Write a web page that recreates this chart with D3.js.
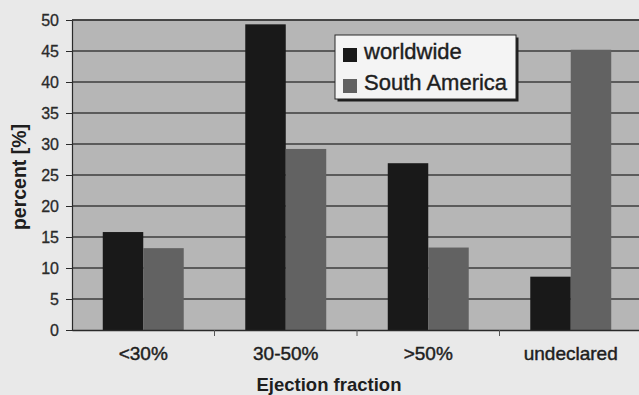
<!DOCTYPE html>
<html>
<head>
<meta charset="utf-8">
<script src="https://cdn.jsdelivr.net/npm/d3@7/dist/d3.min.js"></script>
<style>
  html, body { margin: 0; padding: 0; background: #e9e9e9; }
  svg { display: block; font-family: "Liberation Sans", Arial, sans-serif; }
</style>
</head>
<body>
<svg id="chart" width="639" height="395"></svg>
<script>
// Share of patients by ejection fraction class
const categories = ["<30%", "30-50%", ">50%", "undeclared"];
const seriesNames = ["worldwide", "South America"];
const worldwide = [15.8, 49.3, 26.9, 8.6];
const southAmerica = [13.2, 29.2, 13.3, 45.2];
const yTicks = [0, 5, 10, 15, 20, 25, 30, 35, 40, 45, 50];

const series = [worldwide, southAmerica];
const colors = ["#191919", "#626262"];
const ink = "#1e1e1e";

const svg = d3.select("#chart");
const plotLeft = 72, plotRight = 642, plotTop = 20, plotBottom = 330;

const x0 = d3.scaleBand().domain(categories).range([plotLeft, plotRight]).padding(0);
const x1 = d3.scaleBand().domain(seriesNames).range([0, x0.bandwidth()])
  .paddingInner(0).paddingOuter(0.76);
const y = d3.scaleLinear().domain([0, 50]).range([plotBottom, plotTop]);

// plot area
svg.append("rect")
  .attr("x", plotLeft).attr("y", plotTop)
  .attr("width", plotRight - plotLeft).attr("height", plotBottom - plotTop)
  .attr("fill", "#b6b6b6");

// horizontal gridlines
svg.append("g")
  .selectAll("line")
  .data(yTicks.filter(d => d > 0))
  .join("line")
  .attr("x1", plotLeft).attr("x2", plotRight)
  .attr("y1", d => y(d)).attr("y2", d => y(d))
  .attr("stroke", "#3c3c3c").attr("stroke-width", 1.4);

// bars
const groups = svg.append("g")
  .selectAll("g")
  .data(categories)
  .join("g")
  .attr("transform", d => `translate(${x0(d)},0)`);

groups.selectAll("rect")
  .data((c, i) => seriesNames.map((s, j) => ({ s, v: series[j][i], j })))
  .join("rect")
  .attr("x", d => x1(d.s))
  .attr("width", x1.bandwidth())
  .attr("y", d => y(d.v))
  .attr("height", d => y(0) - y(d.v))
  .attr("fill", d => colors[d.j]);

// y axis
const yAxis = d3.axisLeft(y).tickValues(yTicks).tickSize(6).tickPadding(7);
const gy = svg.append("g").attr("transform", `translate(${plotLeft},0)`).call(yAxis);
gy.select(".domain").attr("stroke", "#2a2a2a").attr("stroke-width", 1.2);
gy.selectAll(".tick line").attr("stroke", "#2a2a2a");
gy.selectAll(".tick text")
  .attr("font-size", 16).attr("fill", "#2a2a2a")
  .attr("stroke", "#2a2a2a").attr("stroke-width", 0.3)
  .attr("font-family", "Liberation Sans, Arial, sans-serif");

// x axis
const xAxis = d3.axisBottom(x0).tickSize(0).tickPadding(17);
const gx = svg.append("g").attr("transform", `translate(0,${plotBottom})`).call(xAxis);
gx.select(".domain").attr("stroke", "#2a2a2a").attr("stroke-width", 1.4);
gx.selectAll(".tick text")
  .attr("font-size", 19).attr("fill", ink)
  .attr("stroke", ink).attr("stroke-width", 0.45)
  .attr("font-family", "Liberation Sans, Arial, sans-serif");

// category separators below the axis
svg.append("g")
  .selectAll("line")
  .data(categories.slice(1))
  .join("line")
  .attr("x1", d => x0(d)).attr("x2", d => x0(d))
  .attr("y1", plotBottom).attr("y2", plotBottom + 6)
  .attr("stroke", "#555");

// top border
svg.append("line")
  .attr("x1", plotLeft).attr("x2", plotRight)
  .attr("y1", plotTop).attr("y2", plotTop)
  .attr("stroke", "#3c3c3c").attr("stroke-width", 1.6);

// axis titles
svg.append("text")
  .attr("transform", `translate(26,${(plotTop + plotBottom) / 2 + 2}) rotate(-90)`)
  .attr("text-anchor", "middle")
  .attr("font-size", 19.5).attr("font-weight", "bold").attr("fill", ink)
  .text("percent [%]");

svg.append("text")
  .attr("x", 329).attr("y", 391)
  .attr("text-anchor", "middle")
  .attr("font-size", 18.5).attr("font-weight", "bold").attr("fill", ink)
  .text("Ejection fraction");

// legend
const lg = svg.append("g").attr("transform", "translate(335,35)");
lg.append("rect")
  .attr("x", 2.5).attr("y", 2.5).attr("width", 181).attr("height", 64)
  .attr("fill", "#1e1e1e");
lg.append("rect")
  .attr("x", 0).attr("y", 0).attr("width", 181).attr("height", 64)
  .attr("fill", "#f4f4f4").attr("stroke", "#2a2a2a").attr("stroke-width", 1);

const items = lg.selectAll("g.item")
  .data(seriesNames)
  .join("g")
  .attr("class", "item")
  .attr("transform", (d, i) => `translate(8,${13 + i * 31})`);
items.append("rect")
  .attr("width", 14).attr("height", 14)
  .attr("fill", (d, i) => colors[i]);
items.append("text")
  .attr("x", 21).attr("y", 9)
  .attr("dy", "0.1em")
  .attr("font-size", 22).attr("fill", ink)
  .attr("stroke", ink).attr("stroke-width", 0.4)
  .text(d => d);
</script>
</body>
</html>
